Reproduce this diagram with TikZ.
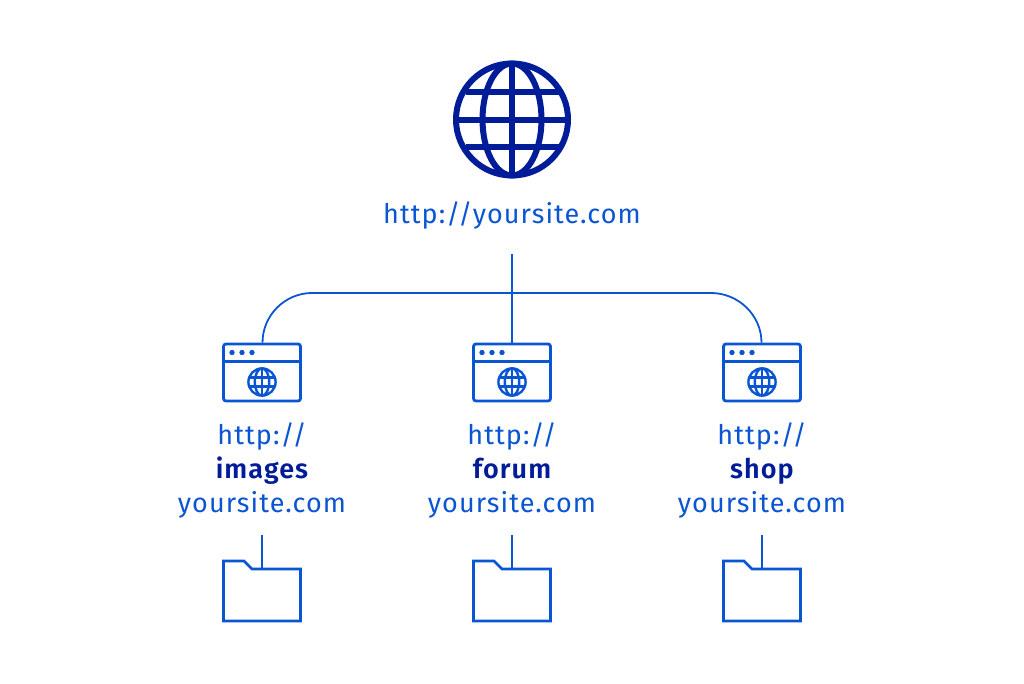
\documentclass[tikz,border=0pt]{standalone}
\usepackage{fontspec}
\setmainfont{Fira Sans}[LetterSpace=4,BoldFont={Fira Sans SemiBold}]
\definecolor{bluea}{HTML}{0A55D2}
\definecolor{darka}{HTML}{001C98}
\tikzset{
  x=1pt,y=-1pt,
  line join=round,
  wire/.style={draw=bluea,line width=1.8pt},
  icon/.style={draw=bluea,line width=2.8pt},
  globeline/.style={draw=darka,line width=6pt},
  smallglobe/.style={draw=bluea,line width=2.4pt},
  url/.style={font=\fontsize{27}{30}\selectfont,text=bluea,anchor=base,inner sep=0pt},
  urlb/.style={font=\fontsize{27}{30}\selectfont\bfseries,text=darka,anchor=base,inner sep=0pt},
  winbox/.style={rectangle,draw=bluea,line width=2.8pt,rounded corners=2.5pt,minimum width=77pt,minimum height=57pt,inner sep=0pt},
  dot/.style={circle,fill=bluea,minimum size=5.4pt,inner sep=0pt},
}
\newcommand{\bigglobe}[2]{%
  \begin{scope}[shift={(#1,#2)}]
    \draw[globeline] (0,0) circle[radius=56];
    \draw[globeline] (0,0) ellipse[x radius=29.5,y radius=56];
    \draw[globeline] (0,-56) -- (0,56);
    \draw[globeline] (-56,1) -- (56,1);
    \draw[globeline] (-46.5,-27.5) -- (46.5,-27.5);
    \draw[globeline] (-46.5,27.5) -- (46.5,27.5);
  \end{scope}}
\newcommand{\smallglobedraw}[2]{%
  \begin{scope}[shift={(#1,#2)}]
    \draw[smallglobe] (0,0) circle[radius=13.6];
    \draw[smallglobe] (0,0) ellipse[x radius=7.2,y radius=13.6];
    \draw[smallglobe] (0,-13.6) -- (0,13.6);
    \draw[smallglobe] (-12.6,-4.6) -- (12.6,-4.6);
    \draw[smallglobe] (-12.6,4.6) -- (12.6,4.6);
  \end{scope}}
\newcommand{\folderdraw}[1]{%
  \draw[icon] (#1-38.5,561) -- (#1-18,561) -- (#1-10,569) -- (#1+38.5,569) -- (#1+38.5,621) -- (#1-38.5,621) -- cycle;}
\begin{document}
\begin{tikzpicture}
\useasboundingbox (0,0) rectangle (1024,684);
\bigglobe{512}{119.5}
\node[url] (root) at (512,224) {http://yoursite.com};

\coordinate (rootend) at (512,254);
\node[winbox] (w1) at (262,372.5) {};
\node[winbox] (w2) at (512,372.5) {};
\node[winbox] (w3) at (762,372.5) {};
\coordinate (w1in) at ([xshift=0.5pt]w1.north);
\coordinate (w3in) at ([xshift=-0.5pt]w3.north);

\draw[wire] (w1in) .. controls (262.5,315.4) and (284.9,293) .. (312,293) -- (711,293) .. controls (738.6,293) and (761.5,315.4) .. (w3in);
\draw[wire] (rootend) -- (w2.north);

\foreach \cx/\nm/\lbl in {262/a/images,512/b/forum,762/c/shop}{
  \draw[icon] (\cx-39,361.5) -- (\cx+39,361.5);
  \node[dot] at (\cx-30,352.5) {};
  \node[dot] at (\cx-20,352.5) {};
  \node[dot] at (\cx-10,352.5) {};
  \smallglobedraw{\cx}{382}
  \node[url] (h\nm) at (\cx,444) {http://};
  \node[urlb] (l\nm) at (\cx,478) {\lbl};
  \node[url] (y\nm) at (\cx,512) {yoursite.com};
  \coordinate (ft\nm) at (\cx,535);
  \coordinate (fb\nm) at (\cx,569);
  \folderdraw{\cx}
  \draw[wire] (ft\nm) -- (fb\nm);
}
\end{tikzpicture}
\end{document}
